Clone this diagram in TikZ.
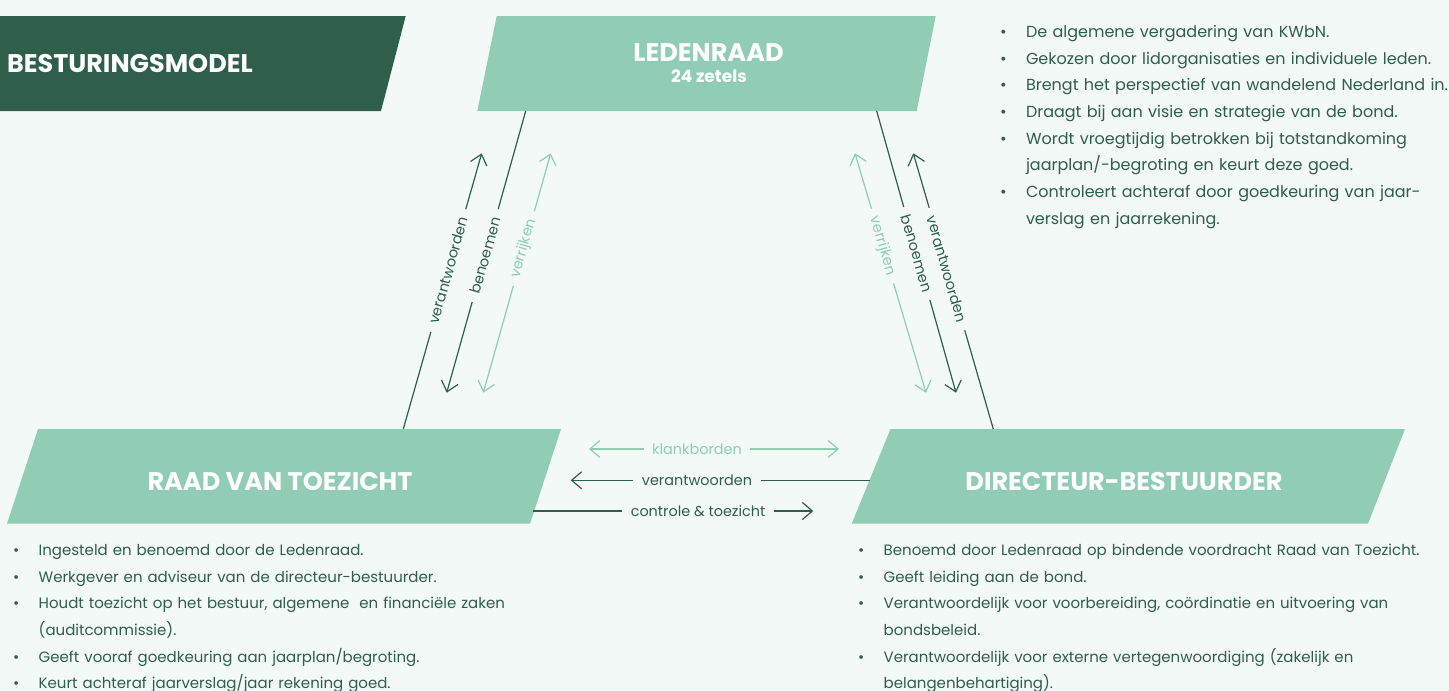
\documentclass[tikz,border=0pt]{standalone}
\usepackage{fontspec}
\setmainfont{Poppins}
\usepackage{tikz}
\usetikzlibrary{arrows.meta,calc}

\definecolor{achtergrond}{HTML}{F3F9F7}
\definecolor{donkergroen}{HTML}{2F5E4B}
\definecolor{lichtgroen}{HTML}{90CDB4}

\newcommand{\tekstfont}{\fontsize{15}{26.7}\selectfont}
\newcommand{\groottekstfont}{\fontsize{16}{26.7}\selectfont}
\newcommand{\bijschriftfont}{\fontsize{14.4}{16}\selectfont}
\newcommand{\kopfont}{\fontsize{25.5}{28}\selectfont\bfseries}
\newcommand{\subkopfont}{\fontsize{17}{19}\selectfont\bfseries}
\newcommand{\punt}[1]{\par\noindent\hangindent=22.5pt\hangafter=1\rule{0pt}{20pt}\makebox[0pt][c]{•}\hspace{22.5pt}#1\par}

\begin{document}
\begin{tikzpicture}[x=1pt,y=-1pt,
  lijn/.style={donkergroen,line width=1.2pt},
  lichtlijn/.style={lichtgroen,line width=1.2pt},
  pijl/.style={-{Straight Barb[length=10pt,width=17pt]}},
  bijschrift/.style={font=\bijschriftfont,inner xsep=8.5pt,inner ysep=0pt,text=donkergroen},
  lichtbijschrift/.style={bijschrift,text=lichtgroen},
  kop/.style={font=\kopfont,text=white,anchor=base},
  lijst/.style={anchor=north west,inner sep=0pt,text width=620pt,align=left,font=\tekstfont,text=donkergroen}]
\useasboundingbox (0,0) rectangle (1449,691);
\fill[achtergrond] (0,0) rectangle (1449,691);

% vlakken
\fill[donkergroen] (-5,16) -- (405.7,16) -- (381,111) -- (-5,111) -- cycle;
\node[kop,anchor=base west] (titel) at (3.5,72) {BESTURINGSMODEL};

\fill[lichtgroen] (496.7,16) -- (935.7,16) -- (916.7,111) -- (477.3,111) -- cycle;
\node[kop] (ledenraad) at (708.5,61) {LEDENRAAD};
\node[kop,font=\subkopfont] (zetels) at (709,82) {24 zetels};

\fill[lichtgroen] (38,429) -- (561,429) -- (530,523.7) -- (7,523.7) -- cycle;
\node[kop] (rvt) at (280,490.7) {RAAD VAN TOEZICHT};

\fill[lichtgroen] (890.5,429) -- (1405,429) -- (1368,523.7) -- (851.7,523.7) -- cycle;
\node[kop] (db) at (1124,490.5) {DIRECTEUR-BESTUURDER};

% links: ledenraad - raad van toezicht
\coordinate (rvt-a) at (403.3,429);
\coordinate (lr-a) at (481.7,153.3);
\coordinate (lr-b) at (525.7,111);
\coordinate (rvt-b) at (446.7,392.7);
\coordinate (rvt-c) at (483.3,392.7);
\coordinate (lr-c) at (550.7,153.3);
\node[bijschrift,rotate=74] (verantw-l) at (448.3,270.5) {verantwoorden};
\node[bijschrift,rotate=74] (benoem-l) at (485.2,255.5) {benoemen};
\node[lichtbijschrift,rotate=74] (verrijk-l) at (523.9,248.5) {verrijken};
\draw[lijn] (rvt-a) -- (verantw-l);
\draw[lijn,pijl] (verantw-l) -- (lr-a);
\draw[lijn] (lr-b) -- (benoem-l);
\draw[lijn,pijl] (benoem-l) -- (rvt-b);
\draw[lichtlijn,pijl] (verrijk-l) -- (rvt-c);
\draw[lichtlijn,pijl] (verrijk-l) -- (lr-c);

% rechts: ledenraad - directeur-bestuurder
\coordinate (lr-d) at (876.7,111);
\coordinate (db-d) at (956,392.7);
\coordinate (db-e) at (993.3,429);
\coordinate (lr-e) at (913.3,153.3);
\coordinate (lr-f) at (855,153.3);
\coordinate (db-f) at (926,392.7);
\node[bijschrift,rotate=-74] (benoem-r) at (916.8,253.5) {benoemen};
\node[bijschrift,rotate=-74] (verantw-r) at (947,269) {verantwoorden};
\node[lichtbijschrift,rotate=-74] (verrijk-r) at (882.5,246) {verrijken};
\draw[lijn] (lr-d) -- (benoem-r);
\draw[lijn,pijl] (benoem-r) -- (db-d);
\draw[lijn] (db-e) -- (verantw-r);
\draw[lijn,pijl] (verantw-r) -- (lr-e);
\draw[lichtlijn,pijl] (verrijk-r) -- (lr-f);
\draw[lichtlijn,pijl] (verrijk-r) -- (db-f);

% midden: raad van toezicht - directeur-bestuurder
\coordinate (klank-l) at (589,449);
\coordinate (klank-r) at (839,449);
\coordinate (db-g) at (869.5,480.3);
\coordinate (rvt-g) at (570.7,480.3);
\coordinate (rvt-h) at (533,511);
\coordinate (db-h) at (813.3,511);
\node[lichtbijschrift] (klank) at (697,449) {klankborden};
\node[bijschrift] (verantw-m) at (697,480.3) {verantwoorden};
\node[bijschrift] (controle) at (698,511) {controle \& toezicht};
\draw[lichtlijn,pijl] (klank) -- (klank-l);
\draw[lichtlijn,pijl] (klank) -- (klank-r);
\draw[lijn] (db-g) -- (verantw-m);
\draw[lijn,pijl] (verantw-m) -- (rvt-g);
\draw[lijn] (rvt-h) -- (controle);
\draw[lijn,pijl] (controle) -- (db-h);

% lijsten
\node[lijst,font=\groottekstfont] (lijst-lr) at (1003.3,10.5) {%
\punt{De algemene vergadering van KWbN.}
\punt{Gekozen door lidorganisaties en individuele leden.}
\punt{Brengt het perspectief van wandelend Nederland in.}
\punt{Draagt bij aan visie en strategie van de bond.}
\punt{Wordt vroegtijdig betrokken bij totstandkoming\newline jaarplan/-begroting en keurt deze goed.}
\punt{Controleert achteraf door goedkeuring van jaar-\newline verslag en jaarrekening.}};

\node[lijst] (lijst-rvt) at (16,528.5) {%
\punt{Ingesteld en benoemd door de Ledenraad.}
\punt{Werkgever en adviseur van de directeur-bestuurder.}
\punt{Houdt toezicht op het bestuur, algemene\ \ en financiële zaken\newline (auditcommissie).}
\punt{Geeft vooraf goedkeuring aan jaarplan/begroting.}
\punt{Keurt achteraf jaarverslag/jaar rekening goed.}};

\node[lijst] (lijst-db) at (861,528.5) {%
\punt{Benoemd door Ledenraad op bindende voordracht Raad van Toezicht.}
\punt{Geeft leiding aan de bond.}
\punt{Verantwoordelijk voor voorbereiding, coördinatie en uitvoering van\newline bondsbeleid.}
\punt{Verantwoordelijk voor externe vertegenwoordiging (zakelijk en\newline belangenbehartiging).}};
\end{tikzpicture}
\end{document}
